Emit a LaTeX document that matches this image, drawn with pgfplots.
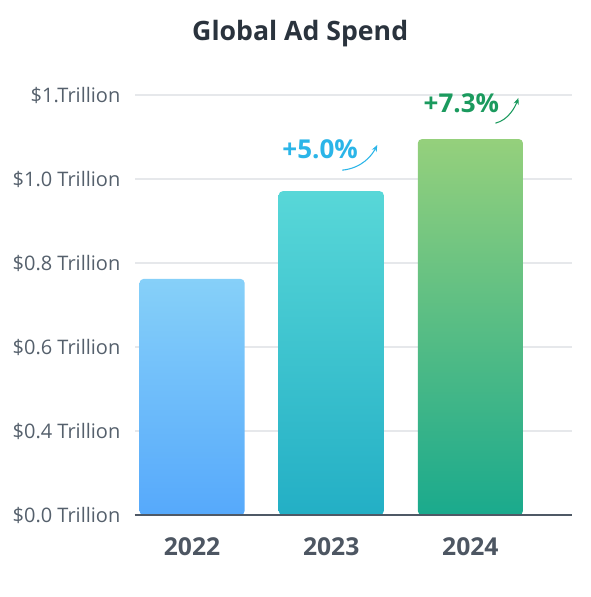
\documentclass[border=0pt]{standalone}
\usepackage{pgfplots}
\pgfplotsset{compat=1.18}
\usepackage{fontspec}
\setmainfont{Open Sans}
\usetikzlibrary{arrows.meta}
\definecolor{titlecol}{HTML}{2A333D}
\definecolor{tickcol}{HTML}{55606C}
\definecolor{yearcol}{HTML}{4D5662}
\definecolor{gridcol}{HTML}{E6E8EB}
\definecolor{axiscol}{HTML}{4F5966}
\definecolor{aTop}{HTML}{86D0F9}
\definecolor{aBot}{HTML}{56A9FB}
\definecolor{bTop}{HTML}{58D7D8}
\definecolor{bBot}{HTML}{23AFC5}
\definecolor{cTop}{HTML}{95D07C}
\definecolor{cBot}{HTML}{1AAA8D}
\definecolor{pctblue}{HTML}{2BB5E8}
\definecolor{pctgreen}{HTML}{1B9A5E}
\begin{document}
\begin{tikzpicture}
\begin{axis}[
  scale only axis,
  width=327.75pt, height=315pt,
  xmin=-0.41, xmax=2.73, ymin=0, ymax=1.0,
  clip=false,
  axis x line*=bottom,
  axis y line*=left,
  y axis line style={draw=none},
  x axis line style={draw=axiscol, line width=1.3pt, -},
  tick style={draw=none},
  major tick length=0pt,
  xtick={0,1,2},
  xticklabels={2022,2023,2024},
  ytick={0,0.2,0.4,0.6,0.8,1.0},
  yticklabels={\$0.0 Trillion,\$0.4 Trillion,\$0.6 Trillion,\$0.8 Trillion,\$1.0 Trillion,\$1.Trillion},
  /pgf/number format/assume math mode=true,
  ymajorgrids,
  grid style={draw=gridcol, line width=0.9pt},
  yticklabel style={font=\fontsize{15}{18}\selectfont, text=tickcol, anchor=east, xshift=-7.5pt},
  xticklabel style={font=\fontsize{18.5}{22}\selectfont\bfseries, text=yearcol, anchor=north, yshift=-13.5pt},
  title={Global Ad Spend},
  title style={font=\fontsize{20}{24}\selectfont\bfseries, text=titlecol, at={(rel axis cs:0.378,1)}, anchor=center, yshift=39.75pt},
  ybar, bar width=0.755, bar shift=0pt,
]
\addplot[draw=none, top color=aTop, bottom color=aBot, rounded corners=3pt] coordinates {(0,0.562)};
\addplot[draw=none, top color=bTop, bottom color=bBot, rounded corners=3pt] coordinates {(1,0.771)};
\addplot[draw=none, top color=cTop, bottom color=cBot, rounded corners=3pt] coordinates {(2,0.895)};
\draw[draw=axiscol, line width=1.3pt] (rel axis cs:0,0) -- (rel axis cs:1,0);
\node[text=pctblue, font=\fontsize{19.5}{23}\selectfont\bfseries] at (axis cs:0.92,0.871) {+5.0\%};
\draw[pctblue, line width=0.8pt, -{Stealth[length=5pt,width=4pt]}] (axis cs:1.079,0.821) .. controls (axis cs:1.22,0.826) and (axis cs:1.29,0.855) .. (axis cs:1.331,0.881);
\node[text=pctgreen, font=\fontsize{19.5}{23}\selectfont\bfseries] at (axis cs:1.935,0.981) {+7.3\%};
\draw[pctgreen, line width=0.8pt, -{Stealth[length=5pt,width=4pt]}] (axis cs:2.18,0.933) .. controls (axis cs:2.27,0.94) and (axis cs:2.32,0.97) .. (axis cs:2.345,0.993);
\end{axis}
\pgfresetboundingbox
\path (-101.25pt,-61.5pt) rectangle (342pt,386.25pt);
\end{tikzpicture}
\end{document}
